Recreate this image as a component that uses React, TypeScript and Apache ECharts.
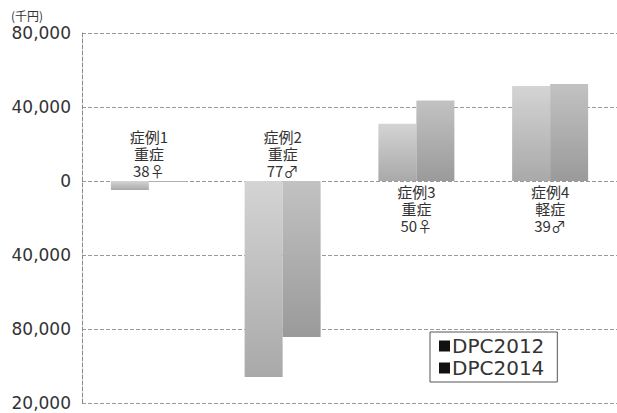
import React, { useEffect, useRef } from "react";
import * as echarts from "echarts";

const categories = ["症例1", "症例2", "症例3", "症例4"];
const caseNotes = ["症例1\n重症\n38♀", "症例2\n重症\n77♂", "症例3\n重症\n50♀", "症例4\n軽症\n39♂"];
const dpc2012 = [-4900, -106000, 31000, 51300];
const dpc2014 = [-600, -84300, 43500, 52400];
const yTickValues = [-120000, -80000, -40000, 0, 40000, 80000];
const yTickLabels = ["20,000", "80,000", "40,000", "0", "40,000", "80,000"];

export default function App() {
  const ref = useRef<HTMLDivElement>(null);
  useEffect(() => {
    const chart = echarts.init(ref.current!, null, { renderer: "svg" });
    const fontFamily = "'Noto Sans CJK JP', 'Noto Sans', sans-serif";
    const latin = "'DejaVu Sans', sans-serif";
    const grad = (a: string, b: string) =>
      new echarts.graphic.LinearGradient(0, 0, 0, 1, [
        { offset: 0, color: a },
        { offset: 1, color: b },
      ]);
    const notePoints = categories.map((c, i) => ({
      coord: [c, 0],
      label: {
        show: true,
        formatter: caseNotes[i],
        position: dpc2012[i] < 0 ? "top" : "bottom",
        distance: 2,
        fontSize: 15,
        lineHeight: 17,
        color: "#333",
        fontFamily,
        align: "center",
      },
    }));
    chart.setOption({
      animation: false,
      grid: { left: 82, right: -3, top: 33, bottom: 10, containLabel: false },
      legend: {
        data: ["DPC2012", "DPC2014"],
        orient: "vertical",
        left: 430,
        top: 332,
        itemWidth: 11,
        itemHeight: 11,
        itemGap: 2,
        icon: "rect",
        padding: [4, 13, 4, 9],
        borderColor: "#555",
        borderWidth: 1,
        itemStyle: { color: "#111" },
        textStyle: { fontSize: 20, color: "#333", fontFamily: latin, padding: [0, 0, 0, -3] },
      },
      xAxis: {
        type: "category",
        data: categories,
        axisLine: { show: false },
        axisTick: { show: false },
        axisLabel: { show: false },
      },
      yAxis: {
        type: "value",
        min: -120000,
        max: 80000,
        interval: 40000,
        axisLine: { show: true, lineStyle: { color: "#888", type: "dashed", width: 1 } },
        axisTick: { show: false },
        axisLabel: {
          fontSize: 17,
          color: "#333",
          margin: 11,
          fontFamily: latin,
          formatter: (v: number) => {
            const i = yTickValues.indexOf(v);
            return i >= 0 ? yTickLabels[i] : "";
          },
        },
        splitLine: { show: true, lineStyle: { color: "#999", type: "dashed", width: 1 } },
      },
      graphic: [
        {
          type: "text",
          left: 11,
          top: 9,
          style: { text: "(千円)", fontSize: 12, fill: "#333", fontFamily },
        },
      ],
      series: [
        {
          name: "DPC2012",
          type: "bar",
          data: dpc2012,
          barWidth: 38,
          barGap: "0%",
          itemStyle: { color: grad("#d4d4d4", "#a9a9a9") },
          markPoint: {
            symbol: "circle",
            symbolSize: 0,
            symbolOffset: [19, 0],
            data: notePoints,
          },
        },
        {
          name: "DPC2014",
          type: "bar",
          data: dpc2014,
          barWidth: 38,
          barGap: "0%",
          itemStyle: { color: grad("#c2c2c2", "#9a9a9a") },
        },
      ],
    });
    return () => chart.dispose();
  }, []);
  return <div ref={ref} style={{ position: "fixed", left: 0, top: 0, width: 617, height: 413, background: "#fff" }} />;
}
